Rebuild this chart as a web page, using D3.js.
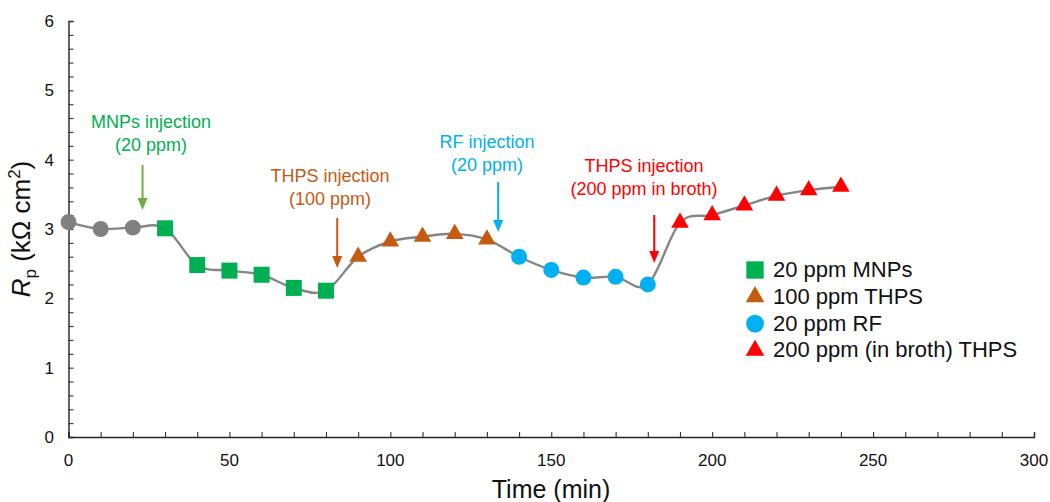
<!DOCTYPE html>
<html>
<head>
<meta charset="utf-8">
<script src="https://cdn.jsdelivr.net/npm/d3@7"></script>
<style>
  body { margin: 0; background: #fff; }
  text { font-family: "Liberation Sans", Arial, sans-serif; }
</style>
</head>
<body>
<div id="chart-area"></div>
<script>
let width = 1050,
    height = 502;

// data
let baseTime = [0, 10, 20],
    baseRp = [3.10, 3.00, 3.02];
let mnpTime = [30, 40, 50, 60, 70, 80],
    mnpRp = [3.01, 2.48, 2.40, 2.34, 2.15, 2.11];
let thps100Time = [90, 100, 110, 120, 130],
    thps100Rp = [2.60, 2.82, 2.89, 2.93, 2.85];
let rfTime = [140, 150, 160, 170, 180],
    rfRp = [2.60, 2.41, 2.30, 2.31, 2.20];
let thps200Time = [190, 200, 210, 220, 230, 240],
    thps200Rp = [3.09, 3.20, 3.34, 3.48, 3.56, 3.61];

let xTicks = [0, 50, 100, 150, 200, 250, 300],
    yTicks = [0, 1, 2, 3, 4, 5, 6];

let legendLabels = ["20 ppm MNPs", "100 ppm THPS", "20 ppm RF", "200 ppm (in broth) THPS"];

// injection notes: arrow time, text lines, colours
let noteLines = [
  ["MNPs injection", "(20 ppm)"],
  ["THPS injection", "(100 ppm)"],
  ["RF injection", "(20 ppm)"],
  ["THPS injection", "(200 ppm in broth)"]
];
let noteTime = [23, 83.5, 133.5, 182];
let noteTextColor = ["#00b050", "#c55a11", "#00b0f0", "#ff0000"],
    noteArrowColor = ["#70ad47", "#c55a11", "#00b0f0", "#ff0000"];

let svg = d3.select("#chart-area").append("svg")
    .attr("width", width)
    .attr("height", height);

let x = d3.scaleLinear().domain([0, 300]).range([68.5, 1034]);
let y = d3.scaleLinear().domain([0, 6]).range([437, 21]);

// axes, ticks point inward
let xAxis = d3.axisBottom(x).tickValues(d3.range(0, 301, 10)).tickSize(-5).tickFormat("");
let yAxis = d3.axisLeft(y).tickValues(d3.range(0, 6.01, 0.2)).tickSize(-5).tickFormat("");

let gx = svg.append("g").attr("transform", "translate(0," + y(0) + ")").call(xAxis);
let gy = svg.append("g").attr("transform", "translate(" + x(0) + ",0)").call(yAxis);
[gx, gy].forEach(function(g) {
  g.select(".domain").attr("stroke", "#222").attr("stroke-width", 1.4);
  g.selectAll(".tick line").attr("stroke", "#333").attr("stroke-width", 1.1);
});

svg.selectAll(".xlab").data(xTicks).enter().append("text")
    .attr("x", d => x(d)).attr("y", 466)
    .attr("text-anchor", "middle").attr("font-size", 17).attr("fill", "#111")
    .text(d => d);
svg.selectAll(".ylab").data(yTicks).enter().append("text")
    .attr("x", 54).attr("y", d => y(d) + 6)
    .attr("text-anchor", "end").attr("font-size", 17).attr("fill", "#111")
    .text(d => d);

// axis titles
svg.append("text").attr("x", 551).attr("y", 498)
    .attr("text-anchor", "middle").attr("font-size", 25).attr("fill", "#111")
    .text("Time (min)");

let yt = svg.append("text")
    .attr("transform", "translate(30,229) rotate(-90)")
    .attr("text-anchor", "middle").attr("font-size", 26).attr("fill", "#111");
yt.append("tspan").attr("font-style", "italic").text("R");
yt.append("tspan").attr("font-size", 17).attr("dy", 6).text("p");
yt.append("tspan").attr("dy", -6).text(" (kΩ cm");
yt.append("tspan").attr("font-size", 17).attr("dy", -10).text("2");
yt.append("tspan").attr("dy", 10).text(")");

// smoothed line through all points
let allTime = baseTime.concat(mnpTime, thps100Time, rfTime, thps200Time);
let allRp = baseRp.concat(mnpRp, thps100Rp, rfRp, thps200Rp);
let pts = allTime.map((t, i) => [t, allRp[i]]);

let line = d3.line()
    .x(d => x(d[0])).y(d => y(d[1]))
    .curve(d3.curveCardinal.tension(0));
svg.append("path").datum(pts)
    .attr("d", line).attr("fill", "none")
    .attr("stroke", "#858585").attr("stroke-width", 2.4);

// markers
function drawMarkers(times, vals, type, size, color) {
  let sym = d3.symbol().type(type).size(size);
  svg.append("g").selectAll("path").data(times).enter().append("path")
      .attr("d", sym)
      .attr("transform", (d, i) => "translate(" + x(d) + "," + y(vals[i]) + ")")
      .attr("fill", color);
}
let triSize = 135, circSize = 200, sqSize = 256;
drawMarkers(baseTime, baseRp, d3.symbolCircle, circSize, "#808080");
drawMarkers(mnpTime, mnpRp, d3.symbolSquare, sqSize, "#00b050");
drawMarkers(thps100Time, thps100Rp, d3.symbolTriangle, triSize, "#c55a11");
drawMarkers(rfTime, rfRp, d3.symbolCircle, circSize, "#00b0f0");
drawMarkers(thps200Time, thps200Rp, d3.symbolTriangle, triSize, "#ff0000");

// annotations with arrows
let noteBase = [128, 182, 148, 172],
    noteTextX = [151, 330, 487, 644],
    arrowTop = [165, 218, 182, 215],
    arrowBottom = [210, 268, 232, 263];
noteLines.forEach(function(lines, i) {
  lines.forEach(function(s, k) {
    svg.append("text").attr("x", noteTextX[i]).attr("y", noteBase[i] + k * 23)
        .attr("text-anchor", "middle").attr("font-size", 18).attr("fill", noteTextColor[i])
        .text(s);
  });
  let cx = x(noteTime[i]), c = noteArrowColor[i];
  svg.append("line").attr("x1", cx).attr("x2", cx)
      .attr("y1", arrowTop[i]).attr("y2", arrowBottom[i] - 10)
      .attr("stroke", c).attr("stroke-width", 2);
  svg.append("path")
      .attr("d", "M" + (cx - 5) + "," + (arrowBottom[i] - 12) + "L" + (cx + 5) + "," + (arrowBottom[i] - 12) +
                 "L" + cx + "," + arrowBottom[i] + "Z")
      .attr("fill", c);
});

// legend
let legendTypes = [d3.symbolSquare, d3.symbolTriangle, d3.symbolCircle, d3.symbolTriangle],
    legendColors = ["#00b050", "#c55a11", "#00b0f0", "#ff0000"],
    legendSizes = [300, 150, 250, 150];
let lg = svg.append("g").attr("transform", "translate(755,270)");
legendLabels.forEach(function(s, i) {
  lg.append("path")
      .attr("d", d3.symbol().type(legendTypes[i]).size(legendSizes[i]))
      .attr("transform", "translate(0," + (i * 26.8) + ")")
      .attr("fill", legendColors[i]);
  lg.append("text").attr("x", 18).attr("y", i * 26.8 + 7)
      .attr("font-size", 22).attr("fill", "#111").text(s);
});
</script>
</body>
</html>
